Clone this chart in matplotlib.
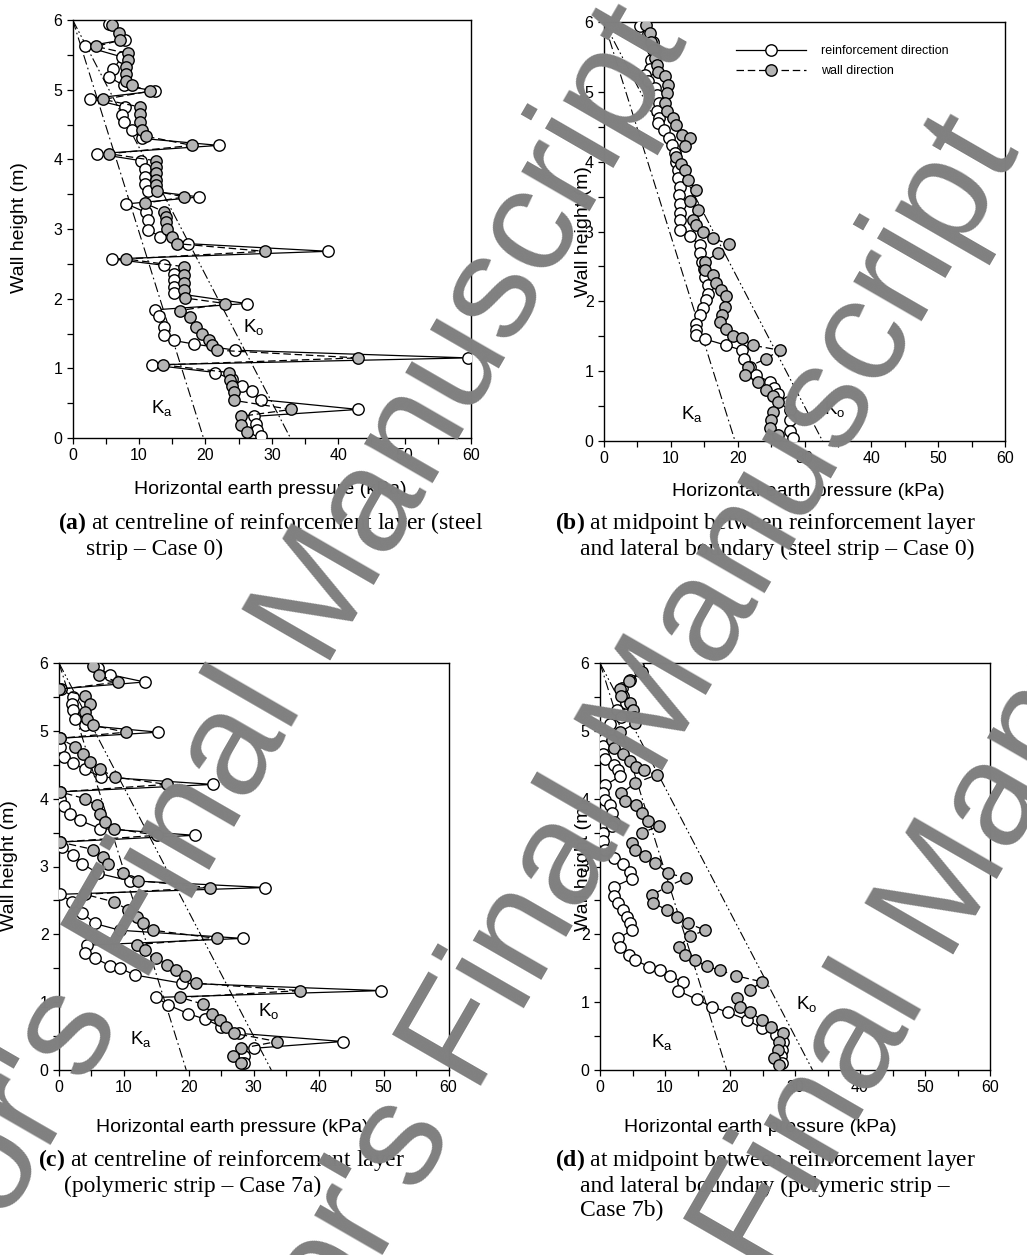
import matplotlib.pyplot as plt
from matplotlib.ticker import MultipleLocator

plt.rcParams['font.family'] = ['Liberation Sans', 'DejaVu Sans']
plt.rcParams['mathtext.fontset'] = 'custom'
plt.rcParams['mathtext.rm'] = 'Liberation Sans'
plt.rcParams['mathtext.bf'] = 'Liberation Serif:bold'

# ------------------------------------------------------------------
# data: wall height (m) and horizontal earth pressure (kPa)
# ------------------------------------------------------------------
A_REINF_H = [5.94, 5.72, 5.62, 5.47, 5.29, 5.18, 5.06, 4.98, 4.87, 4.75, 4.64, 4.54, 4.42, 4.30,
             4.20, 4.08, 3.98, 3.86, 3.75, 3.65, 3.55, 3.46, 3.36, 3.24, 3.13, 2.99, 2.89, 2.79,
             2.68, 2.57, 2.48, 2.36, 2.27, 2.17, 2.08, 1.93, 1.84, 1.75, 1.60, 1.48, 1.40, 1.35,
             1.26, 1.15, 1.05, 0.94, 0.84, 0.74, 0.67, 0.55, 0.41, 0.31, 0.20, 0.11, 0.03]
A_REINF_P = [5.4, 7.9, 1.9, 7.4, 6.1, 5.5, 7.7, 12.4, 2.6, 7.9, 7.5, 7.7, 8.9, 10.5,
             22.0, 3.7, 10.3, 10.9, 10.9, 10.9, 11.3, 19.1, 8.1, 11.0, 11.4, 11.3, 13.2, 17.3,
             38.5, 5.9, 13.7, 15.2, 15.2, 15.2, 15.3, 26.2, 12.4, 13.0, 13.7, 13.8, 15.2, 18.2,
             24.5, 59.5, 11.9, 21.5, 24.0, 25.5, 27.0, 28.3, 43.0, 27.3, 27.6, 27.8, 28.3]
A_WALL_H = [5.93, 5.82, 5.71, 5.62, 5.52, 5.42, 5.33, 5.23, 5.13, 5.06, 4.98, 4.86, 4.75, 4.65,
            4.54, 4.42, 4.33, 4.20, 4.08, 3.98, 3.89, 3.80, 3.71, 3.63, 3.54, 3.46, 3.37, 3.25,
            3.17, 3.10, 3.00, 2.89, 2.79, 2.68, 2.57, 2.46, 2.34, 2.22, 2.12, 2.01, 1.93, 1.83,
            1.74, 1.60, 1.50, 1.41, 1.34, 1.26, 1.15, 1.05, 0.94, 0.83, 0.74, 0.66, 0.54, 0.41,
            0.31, 0.19, 0.09]
A_WALL_P = [5.9, 6.9, 7.2, 3.5, 8.3, 8.4, 8.1, 8.1, 8.1, 8.9, 11.7, 4.6, 10.2, 10.2,
            10.2, 10.4, 11.1, 18.0, 5.5, 12.5, 12.5, 12.5, 12.5, 12.6, 12.7, 16.8, 10.9, 13.7,
            14.0, 14.1, 14.2, 15.0, 15.7, 28.9, 8.0, 16.7, 16.7, 16.7, 16.7, 16.9, 23.0, 16.2,
            17.7, 18.5, 19.5, 20.5, 21.0, 21.8, 43.0, 13.6, 23.5, 23.7, 24.0, 24.3, 24.3, 32.9,
            25.3, 25.3, 26.3]

B_REINF_H = [5.94, 5.83, 5.71, 5.60, 5.45, 5.32, 5.24, 5.15, 5.05, 4.95, 4.84, 4.72, 4.62, 4.55,
             4.45, 4.34, 4.24, 4.12, 4.00, 3.88, 3.76, 3.64, 3.52, 3.40, 3.27, 3.16, 3.02, 2.93,
             2.81, 2.69, 2.57, 2.46, 2.35, 2.23, 2.11, 2.02, 1.90, 1.80, 1.68, 1.59, 1.52, 1.46,
             1.37, 1.30, 1.18, 1.06, 0.94, 0.85, 0.76, 0.68, 0.56, 0.44, 0.30, 0.15, 0.05]
B_REINF_P = [5.4, 6.6, 7.3, 7.6, 7.0, 6.9, 6.1, 6.6, 7.6, 8.0, 8.3, 8.0, 8.3, 8.1,
             9.0, 9.8, 10.1, 10.6, 10.8, 11.0, 11.1, 11.3, 11.2, 11.3, 11.3, 11.3, 11.3, 12.8,
             14.3, 14.3, 14.6, 14.9, 15.1, 15.6, 15.6, 15.2, 14.8, 14.3, 13.8, 13.8, 13.8, 15.1,
             18.3, 20.6, 21.0, 21.8, 22.8, 24.8, 25.5, 26.0, 27.5, 27.8, 27.8, 27.8, 28.3]
B_WALL_H = [5.95, 5.84, 5.72, 5.60, 5.48, 5.38, 5.28, 5.22, 5.10, 4.98, 4.84, 4.72, 4.62, 4.53,
            4.38, 4.34, 4.22, 4.07, 3.97, 3.88, 3.74, 3.60, 3.43, 3.31, 3.16, 3.09, 3.00, 2.90,
            2.82, 2.69, 2.57, 2.45, 2.38, 2.26, 2.16, 2.07, 1.92, 1.80, 1.71, 1.61, 1.50, 1.47,
            1.37, 1.30, 1.18, 1.06, 0.94, 0.85, 0.73, 0.64, 0.56, 0.42, 0.30, 0.18, 0.08]
B_WALL_P = [6.3, 6.9, 7.1, 7.3, 7.6, 7.9, 8.1, 9.1, 9.6, 9.4, 9.1, 9.4, 10.3, 10.8,
            11.6, 12.8, 12.1, 10.8, 11.5, 12.1, 12.6, 13.8, 12.8, 14.1, 13.3, 13.8, 14.8, 16.3,
            18.7, 17.0, 15.1, 15.1, 16.3, 16.7, 17.5, 18.3, 18.1, 17.6, 17.3, 18.3, 19.3, 20.6,
            22.3, 26.3, 24.3, 21.5, 21.1, 23.0, 24.3, 25.3, 26.0, 25.3, 25.0, 24.8, 26.0]

C_REINF_H = [5.93, 5.83, 5.72, 5.62, 5.50, 5.40, 5.30, 5.18, 5.08, 4.98, 4.89, 4.76, 4.61, 4.52,
             4.43, 4.32, 4.21, 4.10, 4.00, 3.89, 3.78, 3.68, 3.56, 3.46, 3.36, 3.29, 3.17, 3.04,
             2.90, 2.79, 2.69, 2.59, 2.48, 2.32, 2.16, 2.06, 1.94, 1.84, 1.73, 1.65, 1.54, 1.50,
             1.40, 1.28, 1.17, 1.07, 0.96, 0.83, 0.75, 0.64, 0.54, 0.42, 0.32, 0.20, 0.10]
C_REINF_P = [6.0, 7.8, 13.2, 0.3, 2.2, 2.0, 2.2, 2.5, 4.0, 15.3, 0.2, 0.15, 0.7, 2.2,
             4.0, 6.5, 23.7, 0.2, 0.15, 0.8, 1.7, 3.2, 6.3, 20.9, 0.2, 0.5, 2.2, 3.6,
             6.0, 10.9, 31.8, 0.15, 2.0, 3.6, 5.5, 9.4, 28.3, 4.3, 4.0, 5.5, 7.8, 9.4,
             11.7, 18.9, 49.6, 15.0, 16.8, 19.9, 22.5, 25.0, 27.8, 43.7, 30.0, 28.5, 28.5]
C_WALL_H = [5.95, 5.82, 5.72, 5.61, 5.52, 5.40, 5.28, 5.18, 5.08, 4.98, 4.89, 4.76, 4.66, 4.54,
            4.43, 4.32, 4.21, 4.10, 4.00, 3.90, 3.78, 3.66, 3.56, 3.46, 3.36, 3.25, 3.14, 3.04,
            2.90, 2.79, 2.69, 2.59, 2.48, 2.36, 2.26, 2.16, 2.06, 1.94, 1.85, 1.77, 1.65, 1.55,
            1.47, 1.38, 1.28, 1.17, 1.07, 0.97, 0.83, 0.74, 0.64, 0.54, 0.42, 0.32, 0.21, 0.10]
C_WALL_P = [5.3, 6.2, 9.1, 0.05, 4.0, 4.8, 4.0, 4.3, 5.3, 10.3, 0.15, 2.5, 3.7, 4.8,
            6.3, 8.6, 16.6, 0.15, 4.0, 5.8, 6.3, 7.1, 8.4, 15.1, 0.15, 5.3, 6.8, 7.6,
            9.9, 12.2, 23.2, 4.0, 8.4, 10.7, 12.0, 13.0, 14.5, 24.3, 12.0, 13.2, 15.0, 16.6,
            18.1, 19.4, 21.1, 37.1, 18.7, 22.2, 23.6, 24.8, 25.8, 27.0, 33.6, 28.1, 26.8, 28.0]

D_REINF_H = [5.88, 5.75, 5.63, 5.52, 5.41, 5.31, 5.21, 5.10, 4.99, 4.88, 4.77, 4.66, 4.58, 4.50,
             4.42, 4.33, 4.20, 4.08, 3.98, 3.91, 3.79, 3.66, 3.59, 3.50, 3.38, 3.24, 3.12, 3.04,
             2.92, 2.82, 2.70, 2.56, 2.46, 2.36, 2.26, 2.16, 2.06, 1.94, 1.81, 1.70, 1.62, 1.52,
             1.48, 1.38, 1.30, 1.17, 1.04, 0.93, 0.85, 0.74, 0.62, 0.52, 0.42, 0.30, 0.20, 0.11]
D_REINF_P = [6.2, 4.6, 3.4, 3.6, 4.0, 2.6, 3.3, 1.5, 0.1, 0.6, 0.4, 0.5, 0.8, 2.1,
             2.8, 3.1, 0.8, 0.5, 0.8, 1.5, 1.8, 2.1, 1.8, 0.4, 0.5, 0.8, 2.1, 3.5,
             4.6, 4.9, 2.1, 2.1, 2.8, 3.6, 4.1, 4.6, 4.9, 2.8, 3.1, 4.4, 5.4, 7.6,
             9.2, 10.8, 12.8, 12.0, 14.9, 17.3, 19.7, 22.6, 24.9, 27.0, 28.2, 28.0, 27.8, 28.0]
D_WALL_H = [5.96, 5.86, 5.73, 5.61, 5.51, 5.41, 5.30, 5.21, 5.11, 4.98, 4.87, 4.74, 4.66, 4.55,
            4.47, 4.42, 4.35, 4.23, 4.08, 3.96, 3.91, 3.79, 3.67, 3.60, 3.49, 3.35, 3.24, 3.15,
            3.05, 2.90, 2.83, 2.70, 2.58, 2.46, 2.36, 2.26, 2.16, 2.06, 1.97, 1.82, 1.70, 1.62,
            1.53, 1.47, 1.39, 1.30, 1.18, 1.06, 0.93, 0.85, 0.74, 0.64, 0.55, 0.42, 0.29, 0.17,
            0.08]
D_WALL_P = [5.9, 6.4, 4.4, 3.0, 3.3, 4.6, 5.0, 5.2, 5.4, 3.0, 1.8, 2.2, 3.6, 4.6,
            5.5, 6.7, 8.7, 5.4, 3.3, 3.8, 5.5, 6.4, 7.4, 9.0, 6.4, 4.9, 5.4, 6.9,
            8.5, 10.5, 13.3, 10.3, 8.0, 8.2, 10.3, 11.9, 13.6, 16.2, 13.8, 12.2, 13.1, 14.6,
            16.4, 18.5, 20.9, 24.9, 23.1, 21.0, 21.5, 23.1, 24.9, 26.3, 28.1, 27.5, 27.4, 26.8,
            27.6]

# Ka / Ko lines start at (0 kPa, 6 m) and reach these pressures at the base
WALL_TOP = 6.0
KA_BASE = [19.7, 19.6, 19.6, 19.5]
KO_BASE = [32.8, 32.7, 32.7, 32.7]

LEGEND_LABELS = ['reinforcement direction', 'wall direction']

# ------------------------------------------------------------------
W, H = 1027, 1255
fig = plt.figure(figsize=(W / 100, H / 100), dpi=100)


def px_rect(left, top, right, bottom):
    return [left / W, 1 - bottom / H, (right - left) / W, (bottom - top) / H]


def fx(x):
    return x / W


def fy(y):
    return 1 - y / H


def draw_panel(rect, reinf_h, reinf_p, wall_h, wall_p, ka, ko, ka_pos, ko_pos, legend=False):
    ax = fig.add_axes(rect)
    ax.plot([0, ka], [WALL_TOP, 0], color='black', lw=0.8,
            linestyle=(0, (9, 3, 1.5, 3)), zorder=1)
    ax.plot([0, ko], [WALL_TOP, 0], color='black', lw=0.8,
            linestyle=(0, (9, 2.5, 1.5, 2.5, 1.5, 2.5)), zorder=1)
    ax.plot(reinf_p, reinf_h, color='black', lw=0.9, marker='o', ms=8.2,
            mfc='white', mec='black', mew=1.0, label=LEGEND_LABELS[0], zorder=3)
    ax.plot(wall_p, wall_h, color='black', lw=0.9, linestyle=(0, (6, 3)), marker='o',
            ms=8.2, mfc='#b4b4b4', mec='black', mew=1.0, label=LEGEND_LABELS[1], zorder=4)
    ax.text(ka_pos[0], ka_pos[1], r'K$_{\rm a}$', fontsize=13.5, ha='center', va='center')
    ax.text(ko_pos[0], ko_pos[1], r'K$_{\rm o}$', fontsize=13.5, ha='center', va='center')
    ax.set_xlim(0, 60)
    ax.set_ylim(0, 6)
    ax.xaxis.set_major_locator(MultipleLocator(10))
    ax.xaxis.set_minor_locator(MultipleLocator(5))
    ax.yaxis.set_major_locator(MultipleLocator(1))
    ax.yaxis.set_minor_locator(MultipleLocator(0.5))
    ax.tick_params(which='both', direction='out', length=4, width=0.9, labelsize=11.5)
    for sp in ax.spines.values():
        sp.set_linewidth(1.0)
    if legend:
        x0 = (736 - rect[0] * W) / (rect[2] * W)
        ax.legend(loc='upper left', bbox_to_anchor=(x0, 0.944), frameon=False,
                  fontsize=9, handlelength=5.6, handletextpad=1.2, labelspacing=0.6,
                  borderpad=0, borderaxespad=0)
    return ax


draw_panel(px_rect(72.7, 20, 471, 438), A_REINF_H, A_REINF_P, A_WALL_H, A_WALL_P,
           KA_BASE[0], KO_BASE[0], (13.4, 0.42), (27.3, 1.58))
draw_panel(px_rect(604, 22, 1005, 441), B_REINF_H, B_REINF_P, B_WALL_H, B_WALL_P,
           KA_BASE[1], KO_BASE[1], (13.1, 0.38), (34.5, 0.45), legend=True)
draw_panel(px_rect(59, 663, 448.5, 1070), C_REINF_H, C_REINF_P, C_WALL_H, C_WALL_P,
           KA_BASE[2], KO_BASE[2], (12.6, 0.45), (32.3, 0.85))
draw_panel(px_rect(600, 663, 990, 1070), D_REINF_H, D_REINF_P, D_WALL_H, D_WALL_P,
           KA_BASE[3], KO_BASE[3], (9.6, 0.4), (31.8, 0.96))

# axis titles
for x, y in [(20, 228), (583, 232), (10, 866), (583, 866)]:
    fig.text(fx(x), fy(y), 'Wall height (m)', rotation=90, ha='center', va='center',
             fontsize=14)
for x, y in [(270, 490), (808, 492), (232, 1127), (760, 1127)]:
    fig.text(fx(x), fy(y), 'Horizontal earth pressure (kPa)', ha='center', va='center',
             fontsize=14)

# captions
cap = dict(fontsize=17, family=['Liberation Serif', 'DejaVu Serif'], va='center', ha='left')
fig.text(fx(58), fy(523), r'$\mathbf{(a)}$ at centreline of reinforcement layer (steel', **cap)
fig.text(fx(86), fy(549), 'strip \u2013 Case 0)', **cap)
fig.text(fx(555), fy(523), r'$\mathbf{(b)}$ at midpoint between reinforcement layer', **cap)
fig.text(fx(580), fy(549), 'and lateral boundary (steel strip \u2013 Case 0)', **cap)
fig.text(fx(38), fy(1160), r'$\mathbf{(c)}$ at centreline of reinforcement layer', **cap)
fig.text(fx(64), fy(1186), '(polymeric strip \u2013 Case 7a)', **cap)
fig.text(fx(555), fy(1160), r'$\mathbf{(d)}$ at midpoint between reinforcement layer', **cap)
fig.text(fx(580), fy(1186), 'and lateral boundary (polymeric strip \u2013', **cap)
fig.text(fx(580), fy(1210), 'Case 7b)', **cap)

# watermark
for x, y in [(237, 746), (569, 856), (860, 1040)]:
    fig.text(fx(x), fy(y), "Author's Final Manuscript", rotation=60, rotation_mode='anchor',
             ha='center', va='center', fontsize=107, color='#808080', zorder=20)

fig.savefig('out.png', dpi=100)
